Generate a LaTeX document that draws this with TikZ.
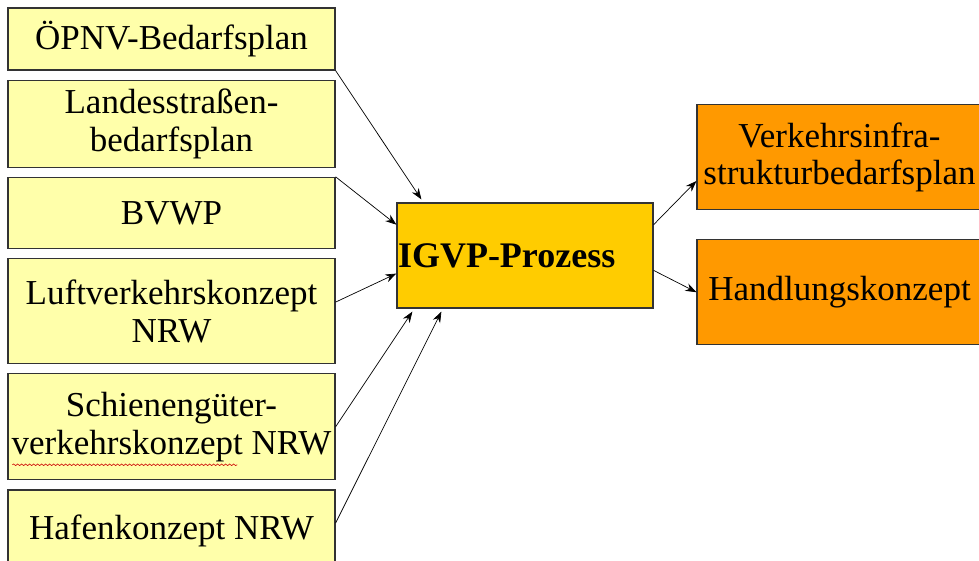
\documentclass[tikz,border=0pt]{standalone}
\usepackage{fontspec}
\setmainfont{Liberation Serif}
\usepackage{tikz}
\usetikzlibrary{arrows.meta,positioning,calc,decorations.pathmorphing}

\definecolor{srcyellow}{RGB}{255,255,170}
\definecolor{igvpgold}{RGB}{255,204,0}
\definecolor{resorange}{RGB}{255,153,0}

\begin{document}
\begin{tikzpicture}[
    x=1pt, y=-1pt,
    node distance=9pt,
    srcbox/.style={rectangle, draw=black!80, fill=srcyellow, line width=1.2pt, minimum width=327pt, inner sep=0pt, align=center, font=\fontsize{35pt}{38pt}\selectfont},
    corebox/.style={rectangle, draw=black!80, fill=igvpgold, line width=1.2pt, text width=254pt, minimum height=105pt, inner xsep=1pt, inner ysep=0pt, align=left, font=\fontsize{36pt}{40pt}\selectfont\bfseries},
    resbox/.style={rectangle, draw=black!80, fill=resorange, line width=1.2pt, minimum width=285pt, minimum height=105pt, inner sep=0pt, align=center, font=\fontsize{35pt}{37pt}\selectfont},
    arrow/.style={-{Stealth[length=11pt,width=8pt]}, line width=0.7pt, black}
]
    \clip (0,0) rectangle (979,560);
    \fill[white] (0,0) rectangle (979,560);

    % input plans
    \node[srcbox, minimum height=62pt] (oepnv) at (171.5,39) {ÖPNV-Bedarfsplan};
    \node[srcbox, minimum height=87pt, below=of oepnv] (strasse) {Landesstraßen-\\bedarfsplan};
    \node[srcbox, minimum height=71pt, below=of strasse] (bvwp) {BVWP};
    \node[srcbox, minimum height=105pt, below=of bvwp] (luft) {Luftverkehrskonzept\\NRW};
    \node[srcbox, minimum height=106pt, below=of luft] (schiene) {Schienengüter-\\verkehrskonzept NRW};
    \node[srcbox, minimum height=82pt, below=of schiene] (hafen) {Hafenkonzept NRW};

    % spell-check underline
    \draw[red!80!black, line width=0.6pt, decorate, decoration={snake, amplitude=0.8pt, segment length=4pt}]
        ($(schiene.west)+(5pt,-38pt)$) -- ($(schiene.west)+(230pt,-38pt)$);

    % process
    \node[corebox] (igvp) at (525,255.5) {IGVP-Prozess};

    % results
    \node[resbox] (verkehr) at (839.5,157) {Verkehrsinfra-\\strukturbedarfsplan};
    \node[resbox, below=29pt of verkehr] (handlung) {Handlungskonzept};

    \draw[arrow] (oepnv.south east) -- ($(igvp.north west)+(25pt,3pt)$);
    \draw[arrow] (bvwp.north east) -- ($(igvp.north west)!0.21!(igvp.south west)$);
    \draw[arrow] ($(luft.east)+(0,9pt)$) -- ($(igvp.north west)!0.67!(igvp.south west)$);
    \draw[arrow] (schiene.east) -- ($(igvp.south west)+(16pt,-3pt)$);
    \draw[arrow] ($(hafen.east)+(0,8pt)$) -- ($(igvp.south west)+(45pt,-3pt)$);

    \draw[arrow] ($(igvp.north east)!0.21!(igvp.south east)$) -- ($(verkehr.west)+(0,-24pt)$);
    \draw[arrow] ($(igvp.north east)!0.64!(igvp.south east)$) -- (handlung.west);
\end{tikzpicture}
\end{document}
